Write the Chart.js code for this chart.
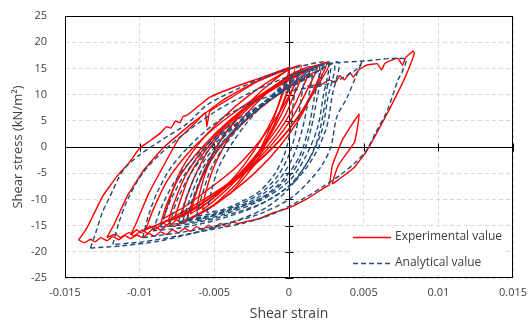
<!DOCTYPE html>
<html>
<head>
<meta charset="utf-8">
<script src="https://cdn.jsdelivr.net/npm/chart.js@4.4.1/dist/chart.umd.min.js"></script>
<style>
  html, body { margin: 0; padding: 0; background: #fff; }
  #wrap { width: 529px; height: 322px; }
</style>
</head>
<body>
<div id="wrap"><canvas id="myChart" width="529" height="322"></canvas></div>
<script>
// tick values
const xTicks = [-0.015, -0.01, -0.005, 0, 0.005, 0.01, 0.015];
const yTicks = [-25, -20, -15, -10, -5, 0, 5, 10, 15, 20, 25];

// experimental loops, [strain, stress]
const exp1 = [[-0.0058,-12],[-0.0056,-8.9],[-0.0051,-4.3],[-0.0043,0.4],[-0.0033,4.8],[-0.0021,8.6],[-0.0009,11.7],[0.0002,13.8],[-0.0002,9.7],[-0.0008,5.5],[-0.0016,0.9],[-0.0027,-3.5],[-0.0039,-7.4],[-0.005,-10.2],[-0.0058,-12]];
const exp2 = [[-0.0066,-12.8],[-0.0063,-9.5],[-0.0057,-4.6],[-0.0048,0.3],[-0.0036,4.9],[-0.0021,9.0],[-0.0007,12.2],[0.0006,14.4],[0.0001,10.0],[-0.0006,5.7],[-0.0016,0.8],[-0.0029,-3.8],[-0.0043,-7.9],[-0.0056,-10.9],[-0.0066,-12.8]];
const exp3 = [[-0.0072,-13.4],[-0.0069,-10.0],[-0.0062,-4.9],[-0.0052,0.2],[-0.0038,5.0],[-0.0021,9.2],[-0.0005,12.6],[0.0010,14.9],[0.0004,10.4],[-0.0003,5.8],[-0.0015,0.8],[-0.0029,-4.1],[-0.0046,-8.3],[-0.0061,-11.4],[-0.0072,-13.4]];
const exp4 = [[-0.0077,-13.9],[-0.0073,-10.4],[-0.0066,-5.1],[-0.0054,0.1],[-0.0039,5.1],[-0.0021,9.5],[-0.0002,13.0],[0.0014,15.3],[0.0008,10.6],[0.0,6.0],[-0.0013,0.7],[-0.0030,-4.3],[-0.0048,-8.6],[-0.0064,-11.9],[-0.0077,-13.9]];
const exp5 = [[-0.0081,-14.3],[-0.0077,-10.7],[-0.0069,-5.3],[-0.0056,0.1],[-0.0039,5.1],[-0.0019,9.6],[0.0001,13.2],[0.0019,15.6],[0.0012,10.8],[0.0003,6.0],[-0.0011,0.65],[-0.0029,-4.4],[-0.0049,-8.9],[-0.0067,-12.2],[-0.0081,-14.3]];
const exp6 = [[-0.0086,-14.7],[-0.0082,-11.0],[-0.0073,-5.5],[-0.0058,0],[-0.0039,5.3],[-0.0017,9.9],[0.0005,13.5],[0.0025,16.0],[0.0017,11.1],[0.0007,6.2],[-0.0008,0.65],[-0.0028,-4.6],[-0.005,-9.2],[-0.007,-12.6],[-0.0086,-14.7]];
const exp7 = [[-0.0096,-15.8],[-0.0091,-12.0],[-0.0081,-6.2],[-0.0065,-0.4],[-0.0044,5.0],[-0.0020,9.8],[0.0005,13.6],[0.0027,16.2],[0.0018,11.1],[0.0007,6.0],[-0.0010,0.2],[-0.0032,-5.2],[-0.0057,-10.0],[-0.0079,-13.6],[-0.0096,-15.8]];
const exp12 = [[-0.0062,-12.2],[-0.006,-9.0],[-0.0055,-4.2],[-0.0047,0.7],[-0.0036,5.2],[-0.0024,9.2],[-0.0011,12.5],[0,14.6],[-0.0004,10.3],[-0.001,6.0],[-0.0019,1.2],[-0.003,-3.4],[-0.0042,-7.4],[-0.0053,-10.3],[-0.0062,-12.2]];
const exp13 = [[-0.0084,-13.6],[-0.008,-10.1],[-0.0073,-4.8],[-0.0061,0.4],[-0.0045,5.4],[-0.0027,9.8],[-0.0009,13.3],[0.0008,15.6],[0.0002,10.9],[-0.0007,6.3],[-0.002,1.0],[-0.0036,-4.0],[-0.0055,-8.3],[-0.0071,-11.6],[-0.0084,-13.6]];
const exp14 = [[-0.0069,-14.2],[-0.0065,-10.7],[-0.0058,-5.6],[-0.0047,-0.4],[-0.0031,4.5],[-0.0013,8.8],[0.0005,12.3],[0.0021,14.6],[0.0015,10.0],[0.0007,5.4],[-0.0006,0.2],[-0.0022,-4.7],[-0.004,-9.0],[-0.0056,-12.2],[-0.0069,-14.2]];
const exp8 = [[-0.0106,-16.8],[-0.0102,-14.3],[-0.0094,-8.9],[-0.0085,-4.1],[-0.0074,1.5],[-0.0062,4.8],[-0.0056,6.6],[-0.0055,3.9],[-0.0053,6.8],[-0.0040,9.2],[-0.0021,12.5],[0.0,15.0],[-0.0005,10],[-0.0012,4],[-0.0022,-2],[-0.0035,-7],[-0.005,-11],[-0.0065,-13.5],[-0.0072,-14.6],[-0.0075,-13.9],[-0.0081,-15.2],[-0.0084,-14.5],[-0.009,-15.8],[-0.0093,-15.1],[-0.0099,-16.4],[-0.0102,-15.8],[-0.0106,-16.8]];
const exp9 = [[-0.0122,-17.3],[-0.0117,-14.7],[-0.0108,-9.2],[-0.0097,-4.3],[-0.0084,-0.1],[-0.0065,4.5],[-0.0044,9.0],[-0.0021,12.6],[0.0004,15.2],[-0.0002,10],[-0.001,4],[-0.0022,-3],[-0.0038,-8.5],[-0.0055,-12],[-0.007,-14],[-0.0077,-15.2],[-0.008,-14.5],[-0.0086,-15.9],[-0.0089,-15.2],[-0.0095,-16.5],[-0.0098,-15.8],[-0.0104,-17],[-0.0107,-16.3],[-0.0113,-17.3],[-0.0116,-16.6],[-0.0122,-17.3]];
const exp10 = [[0.0001,15.3],[-0.0019,13.2],[-0.0036,11.5],[-0.0053,9.5],[-0.0068,6.1],[-0.0071,5.8],[-0.0073,4.6],[-0.0076,5.0],[-0.0079,3.6],[-0.0082,3.9],[-0.0086,2.7],[-0.0093,1.2],[-0.010,-0.2],[-0.0107,-3],[-0.0115,-5.5],[-0.0125,-9.5],[-0.0135,-15.3],[-0.0139,-17.0],[-0.0141,-17.7]];
const exp11 = [[-0.0141,-17.7],[-0.0137,-18.3],[-0.0133,-17.6],[-0.013,-18.1],[-0.0126,-17.3],[-0.0122,-17.9],[-0.0118,-17.1],[-0.0114,-17.7],[-0.011,-16.9],[-0.0106,-17.5],[-0.0102,-16.8],[-0.0098,-17.3],[-0.0094,-16.5],[-0.009,-17.0],[-0.0086,-16.2],[-0.0082,-16.7],[-0.0078,-15.8],[-0.0074,-16.4],[-0.007,-15.5],[-0.0066,-16.1],[-0.0062,-15.2],[-0.0058,-15.8],[-0.0054,-14.9],[-0.005,-15.5],[-0.0046,-14.6],[-0.0042,-15.2],[-0.0038,-14.3],[-0.0034,-14.6],[-0.003,-14.3],[-0.002,-13.7],[-0.001,-12.5],[0,-11.6],[0.0012,-9.9],[0.0023,-7.9],[0.0027,-7.2],[0.0029,-3.5],[0.0036,1.5],[0.0047,6.3],[0.0044,1.0],[0.0033,-3.5],[0.0029,-7.0],[0.0037,-5.4],[0.0044,-3.8],[0.0052,-0.8],[0.006,3.3],[0.0068,7.6],[0.0076,12.2],[0.0081,15.5],[0.0084,17.9],[0.0083,18.3],[0.0078,17.0],[0.0076,15.6],[0.0073,16.9],[0.0068,16.5],[0.0064,15.9],[0.0062,14.7],[0.0059,15.9],[0.0052,15.6],[0.0047,14.8],[0.0043,13.3],[0.0041,14.2],[0.0037,12.8],[0.0034,13.6],[0.0031,12.3],[0.0027,12.8],[0.0022,12.0],[0.0012,11.6]];

// analytical loops, [strain, stress]
const ana0 = [[-0.0055,-12.5],[-0.0052,-8.5],[-0.0047,-3.8],[-0.0038,0.75],[-0.0028,4.7],[-0.0017,8.2],[-0.0006,11.4],[0.0005,14.0],[0.0003,8.7],[0.0001,3.4],[-0.0003,-1.4],[-0.001,-5.3],[-0.002,-8.5],[-0.0033,-10.6],[-0.0045,-12.0],[-0.0055,-12.5]];
const ana1 = [[-0.0062,-13.2],[-0.0058,-9.0],[-0.0052,-4.0],[-0.0042,0.7],[-0.0030,4.9],[-0.0017,8.5],[-0.0003,11.8],[0.0010,14.6],[0.0008,9.0],[0.0005,3.5],[0.0,-1.5],[-0.0008,-5.7],[-0.0020,-9.0],[-0.0036,-11.3],[-0.0050,-12.6],[-0.0062,-13.2]];
const ana2 = [[-0.0068,-13.8],[-0.0064,-9.5],[-0.0056,-4.3],[-0.0045,0.6],[-0.0031,4.9],[-0.0016,8.7],[0.0,12.1],[0.0015,15.0],[0.0013,9.2],[0.0009,3.5],[0.0003,-1.7],[-0.0006,-6.0],[-0.0020,-9.5],[-0.0038,-11.8],[-0.0055,-13.2],[-0.0068,-13.8]];
const ana3 = [[-0.0074,-14.3],[-0.0069,-9.8],[-0.0061,-4.5],[-0.0048,0.55],[-0.0032,5.0],[-0.0015,8.9],[0.0003,12.4],[0.0020,15.4],[0.0017,9.5],[0.0013,3.5],[0.0007,-1.8],[-0.0004,-6.3],[-0.0019,-9.8],[-0.0040,-12.2],[-0.0059,-13.7],[-0.0074,-14.3]];
const ana4 = [[-0.0080,-14.8],[-0.0075,-10.2],[-0.0065,-4.7],[-0.0050,0.55],[-0.0032,5.2],[-0.0013,9.1],[0.0007,12.8],[0.0026,15.9],[0.0023,9.8],[0.0019,3.6],[0.0011,-1.9],[0.0,-6.5],[-0.0019,-10.2],[-0.0042,-12.7],[-0.0063,-14.2],[-0.0080,-14.8]];
const ana5 = [[-0.0086,-15.3],[-0.0080,-10.6],[-0.0069,-4.9],[-0.0053,0.45],[-0.0032,5.2],[-0.0011,9.3],[0.0012,13.1],[0.0033,16.2],[0.0029,9.9],[0.0025,3.6],[0.0016,-2.1],[0.0003,-6.8],[-0.0017,-10.6],[-0.0043,-13.1],[-0.0067,-14.7],[-0.0086,-15.3]];
const ana9 = [[-0.0071,-14.0],[-0.0066,-9.6],[-0.0058,-4.2],[-0.0045,0.8],[-0.0029,5.2],[-0.0012,9.1],[0.0005,12.6],[0.0022,15.6],[0.0019,9.7],[0.0015,3.8],[0.0009,-1.6],[-0.0001,-6.0],[-0.0017,-9.6],[-0.0038,-11.9],[-0.0056,-13.4],[-0.0071,-14.0]];
const ana10 = [[-0.0091,-16.0],[-0.0085,-11.2],[-0.0074,-5.5],[-0.0057,-0.1],[-0.0037,4.7],[-0.0015,8.8],[0.0008,12.6],[0.0030,15.8],[0.0026,9.4],[0.0022,3.1],[0.0013,-2.6],[0.0,-7.4],[-0.0021,-11.2],[-0.0047,-13.8],[-0.0072,-15.4],[-0.0091,-16.0]];
const ana6 = [[-0.0098,-17.3],[-0.0094,-13],[-0.0088,-8.5],[-0.0078,-3.5],[-0.0062,1.5],[-0.0043,5.8],[-0.002,9.0],[0.0003,10.8],[0.0023,11.8],[0.0036,13.2],[0.0046,15.0],[0.0049,16.3],[0.0046,14.3],[0.0039,9.5],[0.0032,5.7],[0.0028,0],[0.0022,-3.5],[0.0012,-7],[0.0,-10],[-0.002,-12.8],[-0.0045,-14.8],[-0.007,-16.2],[-0.0098,-17.3]];
const ana7 = [[-0.0118,-18.6],[-0.0114,-14.5],[-0.0108,-10],[-0.0098,-5],[-0.0085,-1],[-0.0068,3],[-0.0048,7],[-0.0025,10.5],[0.0,13.5],[0.0025,15.8],[0.005,16.4],[0.0078,16.8],[0.0076,14.5],[0.0073,12.8],[0.0066,7.1],[0.0058,2.7],[0.0052,-0.6],[0.0045,-2.8],[0.0035,-5.2],[0.0023,-7.5],[0.001,-9.8],[-0.0011,-12.8],[-0.003,-14.5],[-0.0053,-15.8],[-0.0075,-17],[-0.0098,-18.1],[-0.0118,-18.6]];
const ana8 = [[-0.0133,-19.3],[-0.0129,-16],[-0.0125,-12.5],[-0.012,-9.5],[-0.0111,-4.4],[-0.0100,-1.5],[-0.0086,1.2],[-0.0068,4.5],[-0.0055,8.0],[-0.0035,11.0],[-0.0015,13.5],[0.0005,15.2],[0.0027,16.0],[0.0025,10.5],[0.0022,5],[0.0018,0.5],[0.001,-4],[-0.0002,-8.5],[-0.0015,-11.5],[-0.003,-13.5],[-0.0053,-15.6],[-0.0086,-17.9],[-0.011,-18.8],[-0.0133,-19.3]];

const innerExp = [exp1, exp12, exp2, exp3, exp14, exp4, exp13, exp5, exp6, exp7];
const outerExp = [exp8, exp9, exp10, exp11];
const anaLoops = [ana0, ana1, ana2, ana9, ana3, ana4, ana5, ana10, ana6, ana7, ana8];

const RED = '#ff0000';
const BLUE = '#1f4e79';
const TEXT = '#404040';
const FONT = '"Open Sans", "Liberation Sans", sans-serif';

function loopSet(points, color, dash, tension) {
    return {
        data: points.map(p => ({ x: p[0], y: p[1] })),
        showLine: true,
        borderColor: color,
        backgroundColor: color,
        borderWidth: 1.4,
        borderDash: dash,
        pointRadius: 0,
        tension: tension,
        fill: false
    };
}

const datasets = [];
innerExp.forEach(pts => datasets.push(Object.assign(loopSet(pts, RED, [], 0.3), { order: 1 })));
outerExp.forEach(pts => datasets.push(Object.assign(loopSet(pts, RED, [], 0.1), { order: 1 })));
anaLoops.forEach(pts => datasets.push(Object.assign(loopSet(pts, BLUE, [5, 3], 0.3), { order: 0 })));

// plot frame, zero axes with cross ticks, and legend box inside plot
const framePlugin = {
    id: 'frame',
    beforeDatasetsDraw(chart) {
        const { ctx, chartArea: a, scales: { x, y } } = chart;
        const x0 = Math.round(x.getPixelForValue(0)) + 0.5;
        const y0 = Math.round(y.getPixelForValue(0)) + 0.5;
        ctx.save();
        ctx.strokeStyle = '#000';
        ctx.lineWidth = 1;
        ctx.beginPath();
        ctx.moveTo(x0, a.top); ctx.lineTo(x0, a.bottom);
        ctx.moveTo(a.left, y0); ctx.lineTo(a.right, y0);
        yTicks.forEach(v => {
            const p = Math.round(y.getPixelForValue(v)) + 0.5;
            ctx.moveTo(x0 - 4, p); ctx.lineTo(x0 + 4, p);
        });
        xTicks.forEach(v => {
            const p = Math.round(x.getPixelForValue(v)) + 0.5;
            ctx.moveTo(p, y0 - 4); ctx.lineTo(p, y0 + 4);
        });
        ctx.stroke();
        ctx.restore();
    },
    afterDatasetsDraw(chart) {
        const { ctx, chartArea: a } = chart;
        ctx.save();
        // legend
        ctx.fillStyle = '#fff';
        ctx.fillRect(a.right - 163, a.bottom - 51, 155, 44);
        const rows = [
            { text: 'Experimental value', color: RED, dash: [], y: a.bottom - 41 },
            { text: 'Analytical value', color: BLUE, dash: [5, 3], y: a.bottom - 15 }
        ];
        ctx.font = '12px ' + FONT;
        ctx.textBaseline = 'middle';
        rows.forEach(r => {
            ctx.strokeStyle = r.color;
            ctx.lineWidth = 1.5;
            ctx.setLineDash(r.dash);
            ctx.beginPath();
            ctx.moveTo(a.right - 160, r.y + 0.5);
            ctx.lineTo(a.right - 122, r.y + 0.5);
            ctx.stroke();
            ctx.fillStyle = TEXT;
            ctx.fillText(r.text, a.right - 118, r.y);
        });
        ctx.setLineDash([]);
        // frame
        ctx.strokeStyle = '#000';
        ctx.lineWidth = 1;
        ctx.strokeRect(Math.round(a.left) + 0.5, Math.round(a.top) + 0.5,
            Math.round(a.width) - 1, Math.round(a.height) - 1);
        ctx.restore();
    }
};

const ctx = document.getElementById('myChart').getContext('2d');
const myChart = new Chart(ctx, {
    type: 'scatter',
    data: { datasets: datasets },
    options: {
        responsive: false,
        animation: false,
        layout: { padding: { left: 0, right: 16, top: 16, bottom: 0 } },
        plugins: { legend: { display: false }, tooltip: { enabled: false } },
        scales: {
            x: {
                min: -0.015, max: 0.015,
                afterBuildTicks: s => { s.ticks = xTicks.map(v => ({ value: v })); },
                afterFit: s => { s.height = 44; },
                border: { display: false, dash: [4, 3] },
                grid: { color: '#d9d9d9', drawTicks: true, tickLength: 8, tickColor: 'rgba(0,0,0,0)' },
                ticks: {
                    padding: 0,
                    color: TEXT,
                    font: { family: FONT, size: 11 },
                    callback: v => String(+Number(v).toFixed(3))
                },
                title: {
                    display: true, text: 'Shear strain', color: TEXT,
                    font: { family: FONT, size: 14 }, padding: { top: 0, bottom: 0 }
                }
            },
            y: {
                min: -25, max: 25,
                afterBuildTicks: s => { s.ticks = yTicks.map(v => ({ value: v })); },
                afterFit: s => { s.width = 65; },
                border: { display: false, dash: [4, 3] },
                grid: { color: '#d9d9d9', drawTicks: true, tickLength: 17, tickColor: 'rgba(0,0,0,0)' },
                ticks: {
                    padding: 1,
                    color: TEXT,
                    font: { family: FONT, size: 11 }
                },
                title: {
                    display: true, text: 'Shear stress (kN/m²)', color: TEXT,
                    font: { family: FONT, size: 13 }, padding: { top: 10, bottom: 0 }
                }
            }
        }
    },
    plugins: [framePlugin]
});
</script>
</body>
</html>
